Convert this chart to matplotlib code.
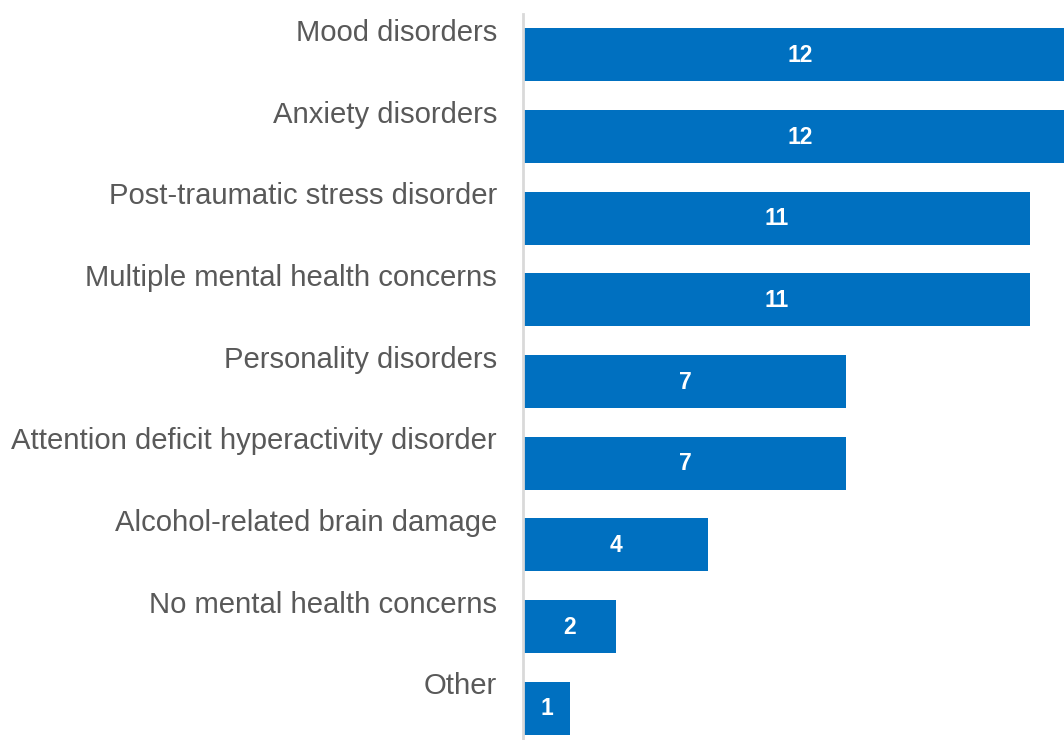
import matplotlib.pyplot as plt

categories = ["Mood disorders", "Anxiety disorders", "Post-traumatic stress disorder",
              "Multiple mental health concerns", "Personality disorders",
              "Attention deficit hyperactivity disorder", "Alcohol-related brain damage",
              "No mental health concerns", "Other"]
counts = [12, 12, 11, 11, 7, 7, 4, 2, 1]

plt.rcParams['font.family'] = ['Liberation Sans', 'DejaVu Sans']

fig = plt.figure(figsize=(10.64, 7.4), dpi=100)
# axes runs a bit past the right and bottom edges, like the original
ax = fig.add_axes([524 / 1064, -9 / 740, 552 / 1064, 735 / 740])

y = list(range(len(categories)))
ax.barh(y, counts, height=0.65, color='#0070C0', zorder=2)
ax.set_xlim(0, 12)
ax.set_ylim(len(categories) - 0.5, -0.5)

for i, (cat, v) in enumerate(zip(categories, counts)):
    ax.text(v / 2, i + 0.01, str(v), color='white', fontsize=16.5, fontweight='bold',
            ha='center', va='center')
    ax.text(-27 / 46, i - 0.17, cat, color='#595959', fontsize=21.1,
            ha='right', va='baseline', clip_on=False)

ax.set_xticks([])
ax.set_yticks([])
for s in ['top', 'right', 'bottom']:
    ax.spines[s].set_visible(False)
ax.spines['left'].set_color('#D9D9D9')
ax.spines['left'].set_linewidth(2)
ax.spines['left'].set_position(('outward', 1))

fig.savefig('out.png', dpi=100)
